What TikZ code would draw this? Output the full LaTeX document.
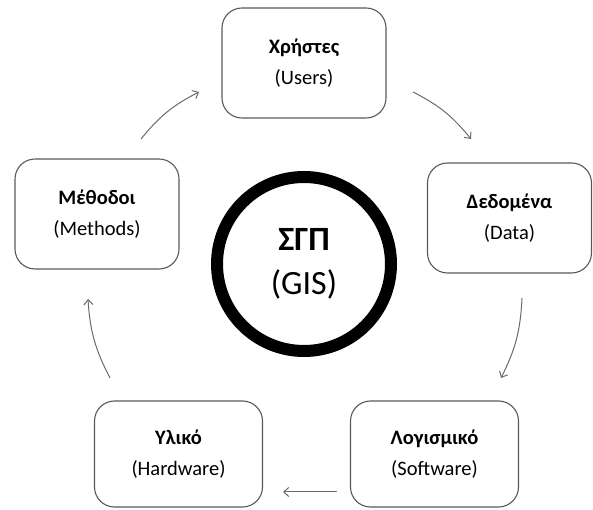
\documentclass[tikz,border=0pt]{standalone}
\usepackage{fontspec}
\setmainfont{Carlito}
\usetikzlibrary{arrows.meta}

\tikzset{
  part/.style={draw=black!65, line width=1.1pt, rounded corners=20pt,
    minimum width=#1, minimum height=110pt, align=center, inner sep=0pt,
    font=\fontsize{20.5}{31}\selectfont},
  part/.default=164pt,
  hub/.style={circle, draw=black, line width=12pt, minimum size=174pt,
    align=center, inner sep=0pt, font=\fontsize{34}{44}\selectfont},
  flow/.style={draw=black!58, line width=1pt,
    -{Straight Barb[length=5pt,width=9pt]}}
}

\begin{document}
\begin{tikzpicture}[x=1pt,y=1pt]
  \useasboundingbox (0,0) rectangle (593,510);

  % the system at the centre
  \node[hub] (gis) at (304,246) {\textbf{ΣΓΠ}\\(GIS)};

  % its five components
  \node[part] (users)    at (304,447) {\textbf{Χρήστες}\\(Users)};
  \node[part] (data)     at (509.5,292) {\textbf{Δεδομένα}\\(Data)};
  \node[part=168pt, minimum height=106pt] (software) at (434.5,56) {\textbf{Λογισμικό}\\(Software)};
  \node[part=168pt, minimum height=106pt] (hardware) at (178.5,56) {\textbf{Υλικό}\\(Hardware)};
  \node[part] (methods)  at (97,296)    {\textbf{Μέθοδοι}\\(Methods)};

  % ends of the cycle arrows
  \coordinate (a1s) at (413,418);
  \coordinate (a1e) at (471,371);
  \coordinate (a2s) at (522,212);
  \coordinate (a2e) at (501,132);
  \coordinate (a3s) at (337,18);
  \coordinate (a3e) at (283,18);
  \coordinate (a4s) at (110,132);
  \coordinate (a4e) at (88,211);
  \coordinate (a5s) at (141,371);
  \coordinate (a5e) at (199,418);

  \draw[flow] (a1s) to[bend left=12] (a1e);
  \draw[flow] (a2s) to[bend left=12] (a2e);
  \draw[flow] (a3s) -- (a3e);
  \draw[flow] (a4s) to[bend left=12] (a4e);
  \draw[flow] (a5s) to[bend left=12] (a5e);
\end{tikzpicture}
\end{document}
